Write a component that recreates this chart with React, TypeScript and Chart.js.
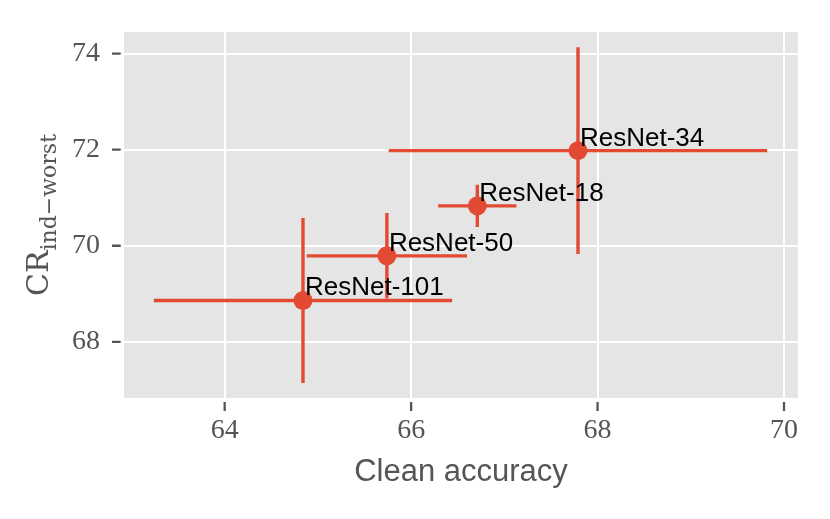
import React, { useEffect, useRef } from 'react';
import { Chart, registerables } from 'chart.js';

Chart.register(...registerables);

const models = ['ResNet-101', 'ResNet-50', 'ResNet-18', 'ResNet-34'];
const cleanAccuracy = [64.84, 65.74, 66.71, 67.79];
const crIndWorst = [68.86, 69.79, 70.83, 71.98];
const accuracyErr = [1.6, 0.86, 0.42, 2.03];
const crErr = [1.72, 0.89, 0.44, 2.15];
const xTickValues = [64, 66, 68, 70];
const yTickValues = [68, 70, 72, 74];
const xTitle = 'Clean accuracy';
const yTitleMain = 'CR';
const yTitleSub = 'ind\u2212worst';

const RED = '#E24A33';
const GREY = '#555555';

export default function App() {
  const ref = useRef<HTMLCanvasElement | null>(null);

  useEffect(() => {
    document.body.style.margin = '0';
    const canvas = ref.current;
    if (!canvas) return;

    const bgPlugin = {
      id: 'bg',
      beforeDraw(chart: any) {
        const { ctx, chartArea: a } = chart;
        ctx.save();
        ctx.fillStyle = '#E5E5E5';
        ctx.fillRect(a.left, a.top, a.right - a.left, a.bottom - a.top);
        ctx.restore();
      },
    };

    const errPlugin = {
      id: 'errbars',
      beforeDatasetsDraw(chart: any) {
        const { ctx } = chart;
        const xs = chart.scales.x;
        const ys = chart.scales.y;
        ctx.save();
        ctx.strokeStyle = RED;
        ctx.lineWidth = 3.4;
        ctx.lineCap = 'butt';
        for (let i = 0; i < models.length; i++) {
          const px = xs.getPixelForValue(cleanAccuracy[i]);
          const py = ys.getPixelForValue(crIndWorst[i]);
          ctx.beginPath();
          ctx.moveTo(xs.getPixelForValue(cleanAccuracy[i] - accuracyErr[i]), py);
          ctx.lineTo(xs.getPixelForValue(cleanAccuracy[i] + accuracyErr[i]), py);
          ctx.moveTo(px, ys.getPixelForValue(crIndWorst[i] - crErr[i]));
          ctx.lineTo(px, ys.getPixelForValue(crIndWorst[i] + crErr[i]));
          ctx.stroke();
        }
        ctx.restore();
      },
    };

    const decoPlugin = {
      id: 'deco',
      afterDraw(chart: any) {
        const { ctx, chartArea: a } = chart;
        const xs = chart.scales.x;
        const ys = chart.scales.y;
        ctx.save();
        // labels
        ctx.fillStyle = '#000000';
        ctx.font = '26px "Liberation Sans", Arial, sans-serif';
        ctx.textAlign = 'left';
        ctx.textBaseline = 'alphabetic';
        for (let i = 0; i < models.length; i++) {
          const px = xs.getPixelForValue(cleanAccuracy[i]);
          const py = ys.getPixelForValue(crIndWorst[i]);
          ctx.fillText(models[i], px + 2, py - 5);
        }
        // tick marks
        ctx.strokeStyle = GREY;
        ctx.lineWidth = 2.3;
        ctx.beginPath();
        for (const v of yTickValues) {
          const y = ys.getPixelForValue(v);
          ctx.moveTo(a.left - 12, y);
          ctx.lineTo(a.left - 3.3, y);
        }
        for (const v of xTickValues) {
          const x = xs.getPixelForValue(v);
          ctx.moveTo(x, a.bottom + 4);
          ctx.lineTo(x, a.bottom + 13);
        }
        ctx.stroke();
        // y title
        ctx.fillStyle = GREY;
        const mainFont = '30px "DejaVu Serif", serif';
        const subFont = '22px "DejaVu Serif", serif';
        ctx.font = mainFont;
        const wMain = ctx.measureText(yTitleMain).width;
        ctx.font = subFont;
        const wSub = ctx.measureText(yTitleSub).width;
        const total = wMain + wSub;
        const cy = (a.top + a.bottom) / 2;
        ctx.translate(48, cy);
        ctx.rotate(-Math.PI / 2);
        ctx.textAlign = 'left';
        ctx.textBaseline = 'alphabetic';
        ctx.font = mainFont;
        ctx.fillText(yTitleMain, -total / 2, 0);
        ctx.font = subFont;
        ctx.fillText(yTitleSub, -total / 2 + wMain, 8);
        ctx.restore();
      },
    };

    const chart = new Chart(canvas, {
      type: 'scatter',
      data: {
        datasets: [
          {
            data: cleanAccuracy.map((x, i) => ({ x, y: crIndWorst[i] })),
            backgroundColor: RED,
            borderWidth: 0,
            pointRadius: 9.5,
            pointHoverRadius: 9.5,
          },
        ],
      },
      options: {
        responsive: false,
        maintainAspectRatio: false,
        devicePixelRatio: 1,
        animation: false,
        layout: { padding: { left: 0, top: 32, right: 32, bottom: 0 } },
        plugins: { legend: { display: false }, tooltip: { enabled: false } },
        scales: {
          x: {
            type: 'linear',
            min: 62.92,
            max: 70.15,
            afterBuildTicks(scale: any) {
              scale.ticks = xTickValues.map((v) => ({ value: v }));
            },
            afterFit(scale: any) {
              scale.height = 121;
              scale.paddingLeft = 0;
              scale.paddingRight = 0;
            },
            border: { display: false },
            grid: { color: '#FFFFFF', lineWidth: 2, drawTicks: false },
            ticks: {
              color: GREY,
              padding: 16,
              maxRotation: 0,
              font: { family: '"Liberation Serif", "Times New Roman", serif', size: 28 },
              callback: (v: any) => String(v),
            },
            title: {
              display: true,
              text: xTitle,
              color: GREY,
              font: { family: '"Liberation Sans", Arial, sans-serif', size: 31 },
              padding: { top: 0, bottom: 28 },
            },
          },
          y: {
            type: 'linear',
            min: 66.83,
            max: 74.45,
            afterBuildTicks(scale: any) {
              scale.ticks = yTickValues.map((v) => ({ value: v }));
            },
            afterFit(scale: any) {
              scale.width = 124;
              scale.paddingTop = 0;
              scale.paddingBottom = 0;
            },
            border: { display: false },
            grid: { color: '#FFFFFF', lineWidth: 2, drawTicks: false },
            ticks: {
              color: GREY,
              padding: 24,
              font: { family: '"Liberation Serif", "Times New Roman", serif', size: 28 },
              callback: (v: any) => String(v),
            },
          },
        },
      },
      plugins: [bgPlugin, errPlugin, decoPlugin],
    });

    return () => chart.destroy();
  }, []);

  return (
    <div style={{ position: 'fixed', left: 0, top: 0, width: 830, height: 519 }}>
      <canvas ref={ref} width={830} height={519} style={{ width: 830, height: 519 }} />
    </div>
  );
}
